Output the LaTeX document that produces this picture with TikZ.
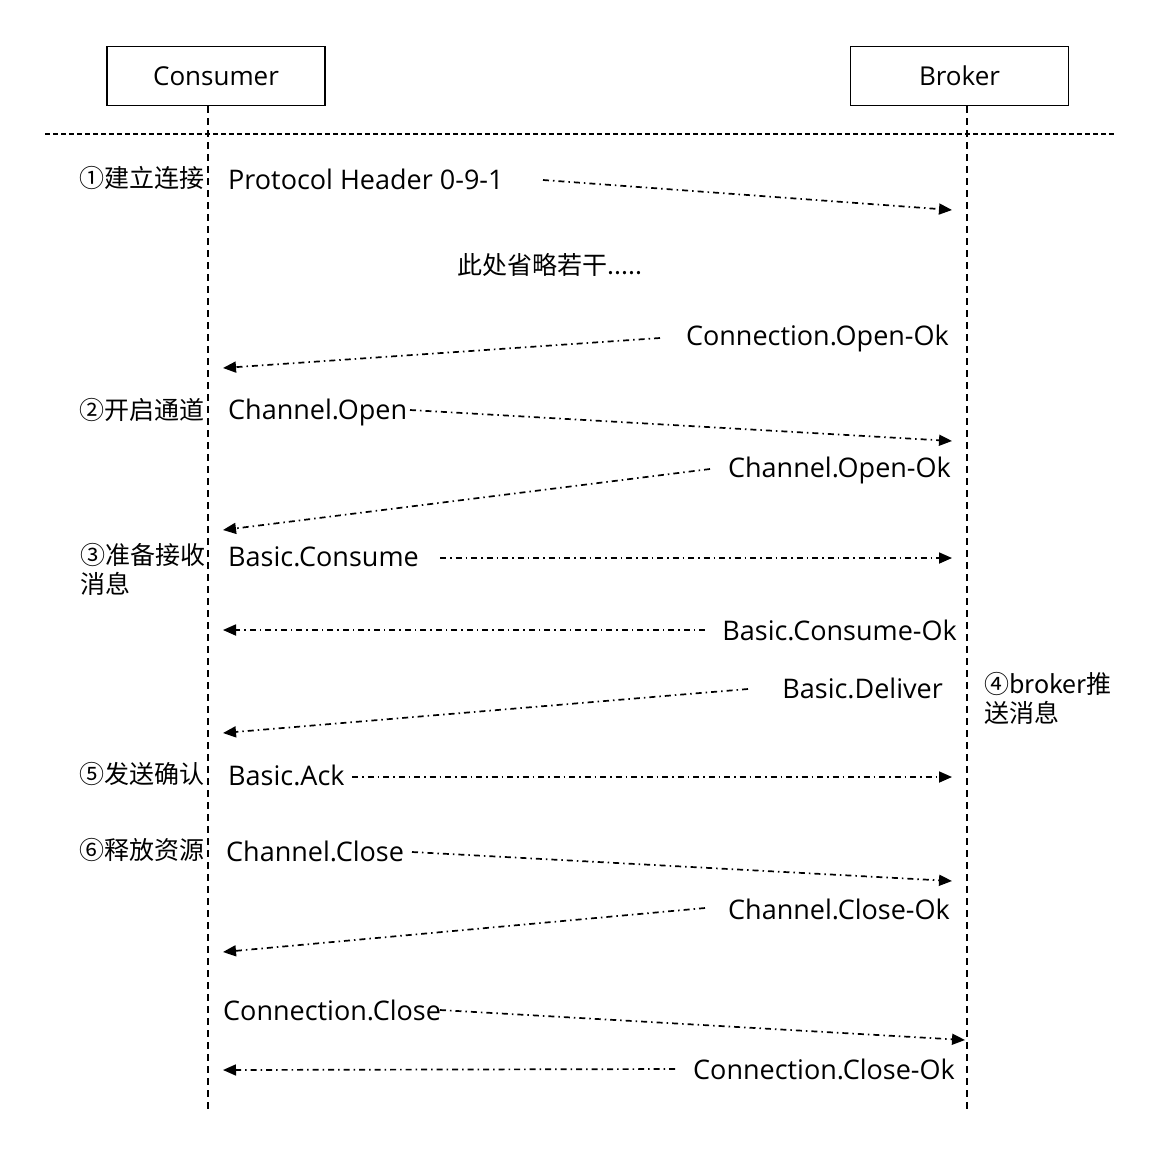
\documentclass[tikz,border=0pt]{standalone}
\usepackage{fontspec}
\setmainfont{Open Sans}
\newfontfamily\cjk{Noto Sans CJK SC}
\usetikzlibrary{arrows.meta}
\tikzset{
	actor/.style={draw, line width=1.8pt, minimum width=218pt, minimum height=59pt, font=\fontsize{26}{30}\selectfont},
	life/.style={line width=1.5pt, dash pattern=on 7pt off 5pt},
	sep/.style={line width=1.5pt, dash pattern=on 5pt off 3pt},
	msg/.style={line width=1.7pt, dash pattern=on 6pt off 4pt on 1.5pt off 4pt, -{Triangle[length=13pt,width=11pt]}},
	lbl/.style={inner sep=0pt, font=\fontsize{27}{31}\selectfont},
	note/.style={inner sep=0pt, align=left, font=\cjk\fontsize{25}{29}\selectfont}
}

\begin{document}
\begin{tikzpicture}[x=1pt,y=-1pt]
	\useasboundingbox (0,0) rectangle (1161,1152);
	\node[actor] (cons) at (216,76) {Consumer};
	\node[actor] (brok) at (959.5,76) {Broker};
	\coordinate (cend) at (208,1110);
	\coordinate (bend) at (967,1110);
	\draw[life] (cons.south -| cend) -- (cend);
	\draw[life] (brok.south -| bend) -- (bend);
	\draw[sep] (45,134) -- (1115,134);

	\node[note, anchor=east] (s1) at (205,178) {①建立连接};
	\node[note, anchor=east] (s2) at (205,410) {②开启通道};
	\node[note, anchor=north west] (s3) at (80,543) {③准备接收\\消息};
	\node[note, anchor=north west] (s4) at (984,672) {④broker推\\送消息};
	\node[note, anchor=east] (s5) at (205,774) {⑤发送确认};
	\node[note, anchor=east] (s6) at (205,850) {⑥释放资源};

	\node[lbl, anchor=west] (m1) at (228,179) {Protocol Header 0-9-1};
	\node[note, anchor=center] (m2) at (550,265) {此处省略若干.....};
	\node[lbl, anchor=east] (m3) at (949,338) {Connection.Open-Ok};
	\node[lbl, anchor=west] (m4) at (228,412) {Channel.Open};
	\node[lbl, anchor=east] (m5) at (951,470) {Channel.Open-Ok};
	\node[lbl, anchor=west] (m6) at (228,557) {Basic.Consume};
	\node[lbl, anchor=east] (m7) at (957,630) {Basic.Consume-Ok};
	\node[lbl, anchor=east] (m8) at (943,688) {Basic.Deliver};
	\node[lbl, anchor=west] (m9) at (228,775) {Basic.Ack};
	\node[lbl, anchor=west] (m10) at (226,851) {Channel.Close};
	\node[lbl, anchor=east] (m11) at (950,909) {Channel.Close-Ok};
	\node[lbl, anchor=west] (m12) at (223,1010) {Connection.Close};
	\node[lbl, anchor=east] (m13) at (955,1069) {Connection.Close-Ok};

	\coordinate (a1) at (543,180);   \coordinate (b1) at (952,210);
	\coordinate (a3) at (660,338);   \coordinate (b3) at (223,368);
	\coordinate (a4) at (410,410);   \coordinate (b4) at (952,441);
	\coordinate (a5) at (710,469);   \coordinate (b5) at (223,530);
	\coordinate (a6) at (440,558);   \coordinate (b6) at (952,558);
	\coordinate (a7) at (705,630);   \coordinate (b7) at (223,630);
	\coordinate (a8) at (748,689);   \coordinate (b8) at (223,733);
	\coordinate (a9) at (352,777);   \coordinate (b9) at (952,777);
	\coordinate (a10) at (412,852);  \coordinate (b10) at (952,881);
	\coordinate (a11) at (705,908);  \coordinate (b11) at (223,952);
	\coordinate (a12) at (440,1010); \coordinate (b12) at (965,1040);
	\coordinate (a13) at (675,1069); \coordinate (b13) at (223,1070);
	\foreach \i in {1,3,4,5,6,7,8,9,10,11,12,13}
		\draw[msg] (a\i) -- (b\i);
\end{tikzpicture}
\end{document}
